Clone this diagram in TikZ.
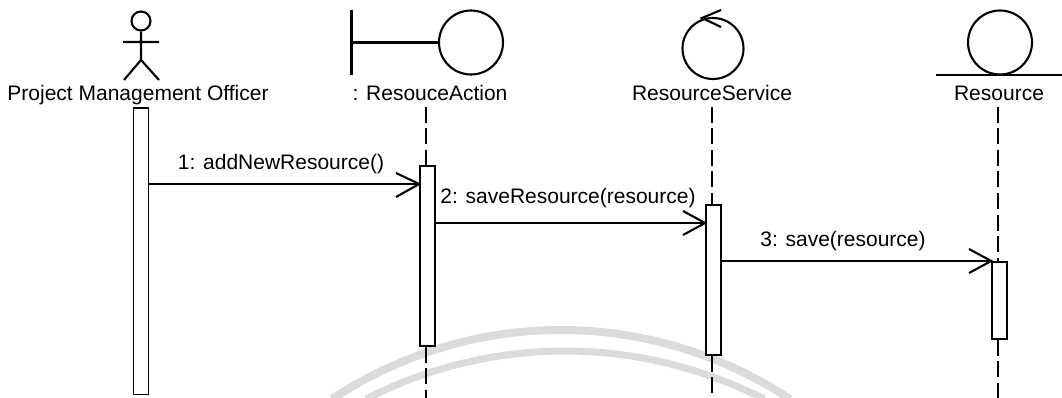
\documentclass[tikz,border=0pt]{standalone}
\usepackage{fontspec}
\setmainfont{Liberation Sans}
\usetikzlibrary{calc}
\tikzset{
  fig/.style={draw=black,line width=2.1pt,fill=none},
  bar/.style={draw=black,line width=1.7pt,fill=white,minimum width=15pt,inner sep=0pt,anchor=north},
  life/.style={draw=black,line width=1.4pt,dash pattern=on 16pt off 5.5pt},
  msg/.style={draw=black,line width=1.8pt},
  head/.style={draw=black,line width=2.1pt},
  lbl/.style={font=\fontsize{21}{24}\selectfont,inner sep=0pt,anchor=base},
  wmo/.style={draw=black!14,line width=8pt},
  wmi/.style={draw=black!14,line width=7pt}
}
\begin{document}
\begin{tikzpicture}[x=1pt,y=-1pt]
\useasboundingbox (0,0) rectangle (1062,398);
% watermark
\coordinate (wo1) at (332,399);
\coordinate (wo2) at (790,399);
\coordinate (wi1) at (366,399);
\coordinate (wi2) at (764,399);
\draw[wmo] (wo1) .. controls (472,307) and (650,307) .. (wo2);
\draw[wmi] (wi1) .. controls (492,335) and (638,335) .. (wi2);
% actor
\node[fig,circle,minimum size=19pt,inner sep=0pt] (ahead) at (141,21) {};
\coordinate (ahip) at (141,60);
\coordinate (aarml) at (123,42);
\coordinate (aarmr) at (159,42);
\coordinate (alegl) at (124,80);
\coordinate (alegr) at (159,80);
\draw[fig] (ahead.south) -- (ahip) (aarml) -- (aarmr) (alegl) -- (ahip) -- (alegr);
% boundary
\node[fig,circle,minimum size=64pt,inner sep=0pt] (bcirc) at (471,42.5) {};
\coordinate (btop) at (351.5,10);
\coordinate (bbot) at (351.5,75);
\coordinate (bmid) at (351.5,42.5);
\draw[fig] (btop) -- (bbot) (bmid) -- (bcirc.west);
% control
\node[fig,circle,minimum size=61pt,inner sep=0pt] (ccirc) at (713,48.5) {};
\coordinate (ctip) at (702,18);
\coordinate (cb1) at (721,10);
\coordinate (cb2) at (721,27);
\draw[fig] (cb1) -- (ctip) -- (cb2);
% entity
\node[fig,circle,minimum size=64pt,inner sep=0pt] (ecirc) at (1000,42.5) {};
\coordinate (el) at (936,75);
\coordinate (er) at (1062,75);
\draw[fig] (el) -- (er);
% labels
\node[lbl] (l1) at (138,101) {Project Management Officer};
\node[lbl] (l2) at (430,101) {: ResouceAction};
\node[lbl] (l3) at (712,101) {ResourceService};
\node[lbl] (l4) at (999,101) {Resource};
% activation bars
\node[bar,minimum height=286pt] (b1) at (141,107.5) {};
\node[bar,minimum height=180pt] (b2) at (427.5,165) {};
\node[bar,minimum height=150pt] (b3) at (713.5,204) {};
\node[bar,minimum height=77pt] (b4) at (999.5,261) {};
% lifelines
\coordinate (t2) at (426,107);
\coordinate (t3) at (712,107);
\coordinate (t4) at (998,107);
\coordinate (e2) at (426,398);
\coordinate (e3) at (712,398);
\coordinate (e4) at (998,398);
\draw[life] (t2) -- (t2 |- b2.north);
\draw[life] (t3) -- (t3 |- b3.north);
\draw[life] (t4) -- (t4 |- b4.north);
\draw[life] (e2 |- b2.south) -- (e2);
\draw[life] (e3 |- b3.south) -- (e3);
\draw[life] (e4 |- b4.south) -- (e4);
% messages
\draw[msg] (b1.east |- 0,184) -- (b2.west |- 0,184);
\draw[head] (396,173) -- (b2.west |- 0,184) -- (396,197);
\draw[msg] (b2.east |- 0,223) -- (b3.west |- 0,223);
\draw[head] (683,211) -- (b3.west |- 0,223) -- (683,235);
\draw[msg] (b3.east |- 0,261) -- (b4.west |- 0,261);
\draw[head] (969,249) -- (b4.west |- 0,261) -- (969,273);
\node[lbl] (m1) at (281,170) {1: addNewResource()};
\node[lbl] (m2) at (568,204) {2: saveResource(resource)};
\node[lbl] (m3) at (843,246) {3: save(resource)};
\end{tikzpicture}
\end{document}
